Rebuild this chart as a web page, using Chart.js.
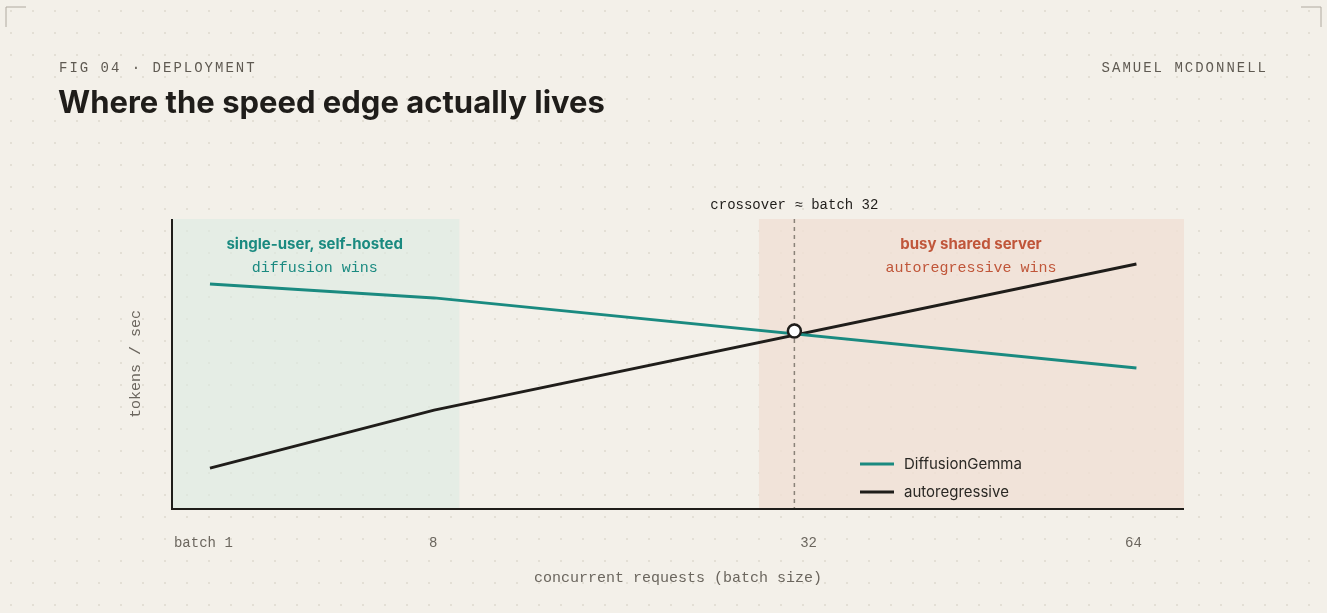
<!DOCTYPE html>
<html><head><meta charset="utf-8">
<script src="https://cdn.jsdelivr.net/npm/chart.js@4"></script>
<style>
html,body{margin:0;padding:0;background:#f3f0e9;}
body{width:1327px;height:613px;overflow:hidden;position:relative;
background-image:radial-gradient(circle,#e3dfd5 1px,transparent 1.2px);background-size:22px 22px;}
#c{position:absolute;left:0;top:0;}
</style></head><body>
<canvas id="c" width="1327" height="613"></canvas>
<script>
const categories = ["batch 1", "8", "32", "64"];
const xPositions = [3.75, 25.9, 61.5, 95.3];      // horizontal placement of categories (0-100 axis units)
const tickPositions = [3.1, 25.8, 62.9, 95.0];
const diffusion = [77.6, 72.8, 61.4, 48.6];       // tokens/sec (relative)
const autoregressive = [14.1, 34.1, 61.4, 84.5];
const crossover = {x: 61.5, y: 61.4};
const bandDiffusion = [0, 28.4];
const bandAR = [58, 100];

const MONO = '"Liberation Mono","DejaVu Sans Mono",monospace';
const SANS = 'Inter,"Noto Sans",sans-serif';

const deco = {
  id:'deco',
  beforeDatasetsDraw(ch){
    const c=ch.ctx, x=ch.scales.x, y=ch.scales.y, a=ch.chartArea;
    c.save();
    c.fillStyle='rgba(220,235,226,0.6)';
    c.fillRect(x.getPixelForValue(bandDiffusion[0]),a.top,x.getPixelForValue(bandDiffusion[1])-x.getPixelForValue(bandDiffusion[0]),a.bottom-a.top);
    c.fillStyle='rgba(240,224,212,0.8)';
    c.fillRect(x.getPixelForValue(bandAR[0]),a.top,x.getPixelForValue(bandAR[1])-x.getPixelForValue(bandAR[0]),a.bottom-a.top);
    // dashed crossover
    const cx=x.getPixelForValue(crossover.x);
    c.strokeStyle='#8a8278';c.lineWidth=1.5;c.setLineDash([4,4]);
    c.beginPath();c.moveTo(cx,a.top);c.lineTo(cx,a.bottom);c.stroke();c.setLineDash([]);
    // band labels
    c.textAlign='center';
    const gx=(x.getPixelForValue(bandDiffusion[0])+x.getPixelForValue(bandDiffusion[1]))/2;
    c.fillStyle='#1a8a80';c.font='bold 15px '+SANS;c.fillText('single-user, self-hosted',gx-1,249);
    c.font='15px '+MONO;c.fillText('diffusion wins',gx-1,272);
    const px=971;
    c.fillStyle='#c0563a';c.font='bold 15px '+SANS;c.fillText('busy shared server',px,249);
    c.font='15px '+MONO;c.fillText('autoregressive wins',px,272);
    c.restore();
  },
  afterDraw(ch){
    const c=ch.ctx, x=ch.scales.x, y=ch.scales.y, a=ch.chartArea;
    c.save();
    // axes
    c.strokeStyle='#1f1d1a';c.lineWidth=2;
    c.beginPath();c.moveTo(a.left,a.top);c.lineTo(a.left,a.bottom);c.lineTo(a.right,a.bottom);c.stroke();
    // crossover marker
    const cx=x.getPixelForValue(crossover.x), cy=y.getPixelForValue(crossover.y);
    c.fillStyle='#fff';c.lineWidth=2.5;c.beginPath();c.arc(cx,cy,6.5,0,Math.PI*2);c.fill();c.stroke();
    c.fillStyle='#1f1d1a';c.font='14px '+MONO;c.textAlign='center';
    c.fillText('crossover ≈ batch 32',cx,209);
    // ticks
    c.fillStyle='#6b665e';c.font='14px '+MONO;
    categories.forEach((t,i)=>c.fillText(t,x.getPixelForValue(tickPositions[i]),547));
    c.font='15px '+MONO;c.fillText('concurrent requests (batch size)',678,582);
    c.save();c.translate(140,364);c.rotate(-Math.PI/2);c.fillText('tokens / sec',0,0);c.restore();
    // legend
    c.textAlign='left';c.font='15px '+SANS;
    ch.data.datasets.forEach((d,i)=>{
      const ly=464+i*28;
      c.strokeStyle=d.borderColor;c.lineWidth=3;
      c.beginPath();c.moveTo(860,ly);c.lineTo(894,ly);c.stroke();
      c.fillStyle='#2a2824';c.fillText(d.label,904,ly+5);
    });
    // header
    c.fillStyle='#5f5a52';c.font='14px '+MONO;
    c.letterSpacing='2px';
    c.fillText('FIG 04 · DEPLOYMENT',59,72);
    c.textAlign='right';c.fillText('SAMUEL MCDONNELL',1268,72);
    c.letterSpacing='0px';
    c.textAlign='left';c.fillStyle='#1f1d1a';c.font='bold 31px '+SANS;
    c.fillText('Where the speed edge actually lives',58,113);
    // corners
    c.strokeStyle='#b0aaa0';c.lineWidth=1;
    c.beginPath();c.moveTo(6,27);c.lineTo(6,7);c.lineTo(26,7);c.stroke();
    c.beginPath();c.moveTo(1301,7);c.lineTo(1321,7);c.lineTo(1321,27);c.stroke();
    c.restore();
  }
};

new Chart(document.getElementById('c'),{
  type:'line',
  data:{datasets:[
    {label:'DiffusionGemma',data:xPositions.map((p,i)=>({x:p,y:diffusion[i]})).filter((_,i)=>i!==2),borderColor:'#1a8a80',borderWidth:3,pointRadius:0,tension:0},
    {label:'autoregressive',data:xPositions.map((p,i)=>({x:p,y:autoregressive[i]})).filter((_,i)=>i!==2),borderColor:'#1f1d1a',borderWidth:3,pointRadius:0,tension:0}
  ]},
  options:{
    responsive:false,animation:false,
    layout:{padding:{left:172,right:143,top:219,bottom:104}},
    plugins:{legend:{display:false},tooltip:{enabled:false}},
    scales:{
      x:{type:'linear',min:0,max:100,display:false},
      y:{type:'linear',min:0,max:100,display:false}
    }
  },
  plugins:[deco]
});
</script></body></html>
